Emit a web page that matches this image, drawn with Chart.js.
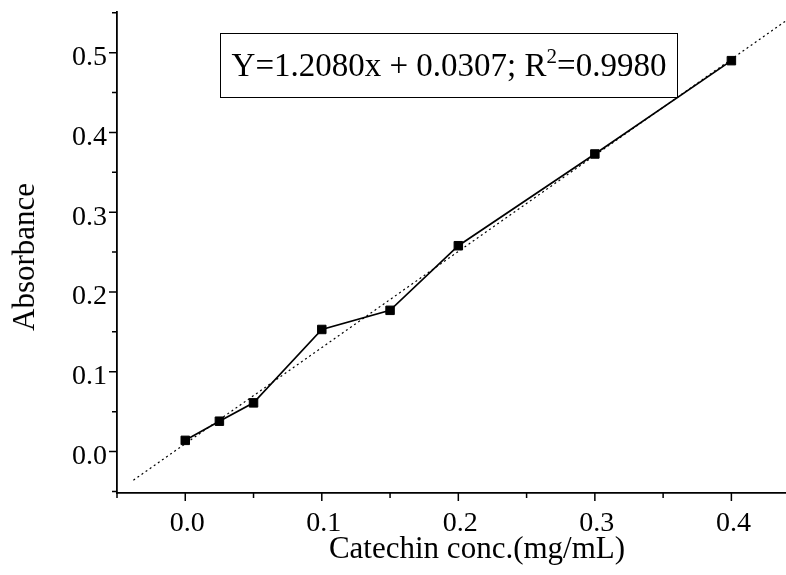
<!DOCTYPE html>
<html>
<head>
<meta charset="utf-8">
<script src="https://cdn.jsdelivr.net/npm/chart.js@4.4.1/dist/chart.umd.min.js"></script>
<style>
    body { margin: 0; background: #fff; }
    #wrap { position: relative; width: 786px; height: 575px; font-family: 'Liberation Serif', 'DejaVu Serif', serif; color: #000; }
    #chart { position: absolute; left: 0; top: 0; }
    .label { position: absolute; white-space: nowrap; }
    #xTitle { left: 477px; top: 530px; font-size: 31px; line-height: 36px; transform: translateX(-50%); }
    #yTitle { left: 24px; top: 257px; font-size: 31px; line-height: 36px; transform: translate(-50%, -50%) rotate(-90deg); }
    #equation { left: 220px; top: 33px; width: 456px; height: 63px; border: 1.5px solid #000; font-size: 33px; line-height: 63px; text-align: center; }
    #equation sup { font-size: 21px; line-height: 0; vertical-align: 13px; }
</style>
</head>
<body>
<div id="wrap">
    <canvas id="chart" width="786" height="575"></canvas>
    <div class="label" id="equation">Y=1.2080x + 0.0307; R<sup>2</sup>=0.9980</div>
    <div class="label" id="xTitle">Catechin conc.(mg/mL)</div>
    <div class="label" id="yTitle">Absorbance</div>
</div>
<script>
// catechin standard curve
const conc = [0, 0.025, 0.05, 0.1, 0.15, 0.2, 0.3, 0.4];
const absorbance = [0.014, 0.038, 0.061, 0.153, 0.177, 0.258, 0.373, 0.490];

// ends of the dotted fit line
const fitX = [-0.038, 0.44];
const fitY = [-0.036, 0.540];

const xRange = [-0.05, 0.44];
const yRange = [-0.052, 0.551];

function isMajor(v) {
    return Math.abs(Math.round(v * 10) - v * 10) < 1e-6;
}

function tickLabel(v) {
    return isMajor(v) ? (Math.round(v * 10) / 10).toFixed(1) : '';
}

// major / minor tick marks drawn outside the axes
const tickMarks = {
    id: 'tickMarks',
    afterDraw(chart) {
        const ctx = chart.ctx;
        const xs = chart.scales.x;
        const ys = chart.scales.y;
        ctx.save();
        ctx.strokeStyle = '#000';
        ctx.lineWidth = 1.5;
        ctx.beginPath();
        xs.ticks.forEach(t => {
            const px = xs.getPixelForValue(t.value);
            const len = isMajor(t.value) ? 8 : 5;
            ctx.moveTo(px, xs.top);
            ctx.lineTo(px, xs.top + len);
        });
        ys.ticks.forEach(t => {
            const py = ys.getPixelForValue(t.value);
            const len = isMajor(t.value) ? 8 : 5;
            ctx.moveTo(ys.right - len, py);
            ctx.lineTo(ys.right, py);
        });
        ctx.stroke();
        ctx.restore();
    }
};

const ctx = document.getElementById('chart').getContext('2d');
new Chart(ctx, {
    type: 'scatter',
    data: {
        datasets: [{
            label: 'fit',
            data: fitX.map((x, i) => ({ x: x, y: fitY[i] })),
            showLine: true,
            borderColor: '#000',
            borderWidth: 1.2,
            borderDash: [2, 3],
            pointRadius: 0
        }, {
            label: 'Absorbance',
            data: conc.map((x, i) => ({ x: x, y: absorbance[i] })),
            showLine: true,
            borderColor: '#000',
            borderWidth: 1.7,
            pointStyle: 'rect',
            pointRadius: 6,
            pointBorderWidth: 1,
            pointBackgroundColor: '#000',
            pointBorderColor: '#000'
        }]
    },
    options: {
        responsive: false,
        animation: false,
        layout: { autoPadding: false, padding: { top: 12, right: 0, left: 0, bottom: 0 } },
        plugins: {
            legend: { display: false },
            tooltip: { enabled: false }
        },
        scales: {
            x: {
                type: 'linear',
                min: xRange[0],
                max: xRange[1],
                grid: { display: false },
                border: { display: true, color: '#000', width: 1.8 },
                ticks: {
                    stepSize: 0.05,
                    includeBounds: false,
                    autoSkip: false,
                    maxRotation: 0,
                    padding: 6,
                    labelOffset: 2,
                    color: '#000',
                    font: { family: 'Liberation Serif', size: 28 },
                    callback: tickLabel
                },
                afterFit: function (scale) {
                    scale.height = 82;
                    scale.paddingLeft = 0;
                    scale.paddingRight = 0;
                }
            },
            y: {
                type: 'linear',
                min: yRange[0],
                max: yRange[1],
                grid: { display: false },
                border: { display: true, color: '#000', width: 1.8 },
                ticks: {
                    stepSize: 0.05,
                    includeBounds: false,
                    autoSkip: false,
                    padding: 2,
                    labelOffset: 5,
                    color: '#000',
                    font: { family: 'Liberation Serif', size: 28 },
                    callback: tickLabel
                },
                afterFit: function (scale) {
                    scale.width = 117;
                    scale.paddingTop = 0;
                    scale.paddingBottom = 0;
                }
            }
        }
    },
    plugins: [tickMarks]
});
</script>
</body>
</html>
